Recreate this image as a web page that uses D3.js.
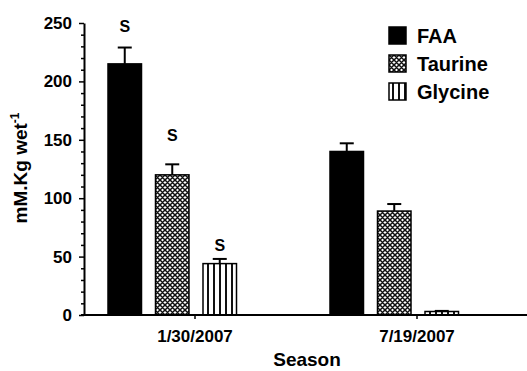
<!DOCTYPE html>
<html>
<head>
<meta charset="utf-8">
<script src="https://cdn.jsdelivr.net/npm/d3@7"></script>
<style>
  html, body { margin: 0; padding: 0; background: #fff; }
  svg { display: block; font-family: "Liberation Sans", Arial, sans-serif; font-weight: bold; }
</style>
</head>
<body>
<svg id="chart" width="527" height="371"></svg>
<script>
// Sampling dates (x categories)
const seasons = ["1/30/2007", "7/19/2007"];
// Measured compounds (series)
const compounds = ["FAA", "Taurine", "Glycine"];
// Mean concentrations, mM.Kg wet^-1, one array per compound (by season)
const faaValues = [215, 140];
const taurineValues = [120, 89];
const glycineValues = [44, 3];
// Upper error (SE) for each bar
const faaErrors = [14, 7];
const taurineErrors = [9, 6];
const glycineErrors = [4, 0.5];
// Significance marks per bar ("" = none)
const faaSig = ["S", ""];
const taurineSig = ["S", ""];
const glycineSig = ["S", ""];
// Y axis ticks
const yTicks = [0, 50, 100, 150, 200, 250];

const svg = d3.select("#chart");
const defs = svg.append("defs");

// Diagonal cross-hatch fill for Taurine
const hatch = defs.append("pattern")
  .attr("id", "checker")
  .attr("patternUnits", "userSpaceOnUse")
  .attr("width", 5).attr("height", 5);
hatch.append("rect").attr("width", 5).attr("height", 5).attr("fill", "#fff");
hatch.append("path").attr("d", "M-1,-1L6,6M-1,6L6,-1M-1,4L1,6M4,-1L6,1M-1,1L1,-1M4,6L6,4")
  .attr("stroke", "#111").attr("stroke-width", 1.5);

// Vertical stripes for Glycine
const stripes = defs.append("pattern")
  .attr("id", "stripes")
  .attr("patternUnits", "userSpaceOnUse")
  .attr("width", 6).attr("height", 6);
stripes.append("rect").attr("width", 6).attr("height", 6).attr("fill", "#fff");
stripes.append("rect").attr("x", 3).attr("width", 2).attr("height", 6).attr("fill", "#111");

const fills = { FAA: "#000", Taurine: "url(#checker)", Glycine: "url(#stripes)" };

const series = [
  { name: "FAA", values: faaValues, errors: faaErrors, sig: faaSig },
  { name: "Taurine", values: taurineValues, errors: taurineErrors, sig: taurineSig },
  { name: "Glycine", values: glycineValues, errors: glycineErrors, sig: glycineSig }
];

const rows = [];
series.forEach(s => seasons.forEach((season, i) => rows.push({
  season, compound: s.name, value: s.values[i], err: s.errors[i], sig: s.sig[i]
})));

// Scales
const y = d3.scaleLinear().domain([0, 250]).range([315, 23]);
const x0 = d3.scaleBand().domain(seasons).range([84, 528]);
const x1 = d3.scaleBand().domain(compounds).range([-87, -87 + 3 * 47.5 - 14]).paddingInner(14 / 47.5);
const barX = d => x0(d.season) + x0.bandwidth() / 2 + x1(d.compound);

// Bars
svg.append("g").selectAll("rect")
  .data(rows).join("rect")
  .attr("x", barX)
  .attr("y", d => y(d.value))
  .attr("width", x1.bandwidth())
  .attr("height", d => y(0) - y(d.value))
  .attr("fill", d => fills[d.compound])
  .attr("stroke", "#000")
  .attr("stroke-width", 1.5);

// Error bars (upper only)
const eb = svg.append("g").attr("stroke", "#000").attr("stroke-width", 2);
eb.selectAll("line.v").data(rows).join("line").attr("class", "v")
  .attr("x1", d => barX(d) + x1.bandwidth() / 2)
  .attr("x2", d => barX(d) + x1.bandwidth() / 2)
  .attr("y1", d => y(d.value))
  .attr("y2", d => y(d.value + d.err));
eb.selectAll("line.c").data(rows).join("line").attr("class", "c")
  .attr("x1", d => barX(d) + x1.bandwidth() / 2 - 7)
  .attr("x2", d => barX(d) + x1.bandwidth() / 2 + 7)
  .attr("y1", d => y(d.value + d.err))
  .attr("y2", d => y(d.value + d.err));

// Significance marks
const sigGap = { FAA: 16, Taurine: 23, Glycine: 8 };
svg.append("g").selectAll("text")
  .data(rows.filter(d => d.sig)).join("text")
  .attr("x", d => barX(d) + x1.bandwidth() / 2)
  .attr("y", d => y(d.value + d.err) - sigGap[d.compound])
  .attr("text-anchor", "middle")
  .attr("font-size", 16)
  .text(d => d.sig);

// Y axis with major and minor ticks
const yAxisG = svg.append("g").attr("transform", "translate(84,0)");
yAxisG.call(d3.axisLeft(y).tickValues(d3.range(0, 251, 10).filter(v => !yTicks.includes(v)))
  .tickSize(3).tickFormat(""));
yAxisG.call(g => g.select(".domain").remove());
const yMajor = svg.append("g").attr("transform", "translate(84,0)")
  .call(d3.axisLeft(y).tickValues(yTicks).tickSize(5).tickPadding(7).tickSizeOuter(0));
yMajor.selectAll("text").attr("font-size", 17).attr("font-family", null).attr("fill", "#000");
svg.selectAll(".tick line").attr("stroke-width", 1.5);
yMajor.select(".domain").attr("stroke-width", 2);

// X axis
const xAxis = svg.append("g").attr("transform", "translate(0,315)")
  .call(d3.axisBottom(x0).tickSize(4).tickPadding(11).tickSizeOuter(0));
xAxis.select(".domain").attr("d", "M81,0H527").attr("stroke-width", 2);
xAxis.selectAll(".tick line").attr("stroke-width", 1.5);
xAxis.selectAll("text").attr("font-size", 17).attr("font-family", null).attr("fill", "#000");

// Axis titles
svg.append("text")
  .attr("x", 307).attr("y", 366)
  .attr("text-anchor", "middle")
  .attr("font-size", 19)
  .text("Season");

const yTitle = svg.append("text")
  .attr("transform", "translate(27,168) rotate(-90)")
  .attr("text-anchor", "middle")
  .attr("font-size", 19);
yTitle.append("tspan").text("mM.Kg wet");
yTitle.append("tspan").attr("font-size", 12).attr("dy", -8).text("-1");

// Legend
const legend = svg.append("g").selectAll("g")
  .data(compounds).join("g")
  .attr("transform", (d, i) => `translate(389,${27 + i * 28})`);
legend.append("rect")
  .attr("width", 17).attr("height", 17)
  .attr("fill", d => fills[d])
  .attr("stroke", "#000").attr("stroke-width", 1.5);
legend.append("text")
  .attr("x", 28).attr("y", 16)
  .attr("font-size", 20)
  .text(d => d);
</script>
</body>
</html>
